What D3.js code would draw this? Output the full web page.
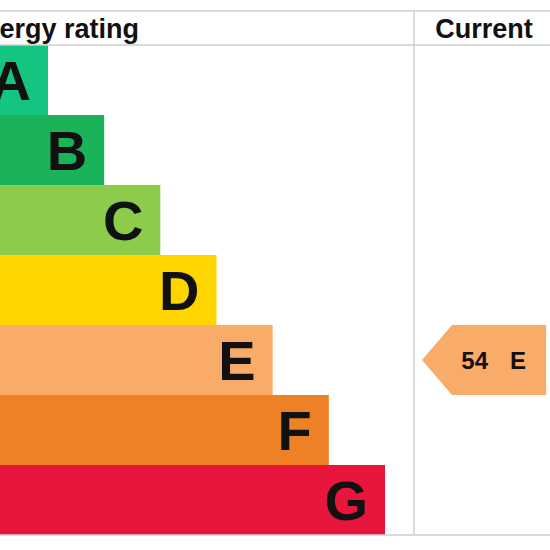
<!DOCTYPE html>
<html><head><meta charset="utf-8">
<script src="https://cdn.jsdelivr.net/npm/d3@7"></script>
<style>html,body{margin:0;padding:0;background:#fff;}svg{display:block;}</style>
</head><body>
<script>
const bands = ["A","B","C","D","E","F","G"];
const bandColors = ["#14c47f","#1bb35a","#8dcc4a","#ffd500","#f9ab69","#ee8026","#e8163c"];
const bandRank = [1,2,3,4,5,6,7];
const headerLabels = ["Energy rating","Current"];
const currentScore = [54];
const currentBand = ["E"];

const W = 550, H = 550;
const svg = d3.select("body").append("svg").attr("width", W).attr("height", H);

const topY = 11, headBot = 45, bottomY = 535, colX = 414, colR = 554, leftX = -60;
const y = d3.scaleBand().domain(bands).range([headBot, bottomY]).padding(0);
const xBar = d3.scaleLinear().domain([1,7]).range([48,385]);
const FONT = "Liberation Sans, Arial, sans-serif";

// bars
svg.selectAll("rect.bar").data(bands).join("rect")
  .attr("x", leftX).attr("y", d => y(d))
  .attr("width", (d,i) => xBar(bandRank[i]) - leftX)
  .attr("height", y.bandwidth())
  .attr("fill", (d,i) => bandColors[i]);

svg.selectAll("text.letter").data(bands).join("text")
  .attr("x", (d,i) => xBar(bandRank[i]) - 17)
  .attr("y", d => y(d) + y.bandwidth()/2 + 20)
  .attr("text-anchor","end")
  .attr("font-family",FONT)
  .attr("font-weight","bold").attr("font-size",56)
  .attr("fill","#111")
  .text(d => d);

// grid lines
const lc = "#cfcfcf";
svg.append("line").attr("x1",leftX).attr("x2",W).attr("y1",topY).attr("y2",topY).attr("stroke",lc).attr("stroke-width",1.5);
svg.append("line").attr("x1",leftX).attr("x2",W).attr("y1",headBot).attr("y2",headBot).attr("stroke",lc).attr("stroke-width",1.5);
svg.append("line").attr("x1",leftX).attr("x2",W).attr("y1",bottomY).attr("y2",bottomY).attr("stroke",lc).attr("stroke-width",1.5);
svg.append("line").attr("x1",colX).attr("x2",colX).attr("y1",topY).attr("y2",bottomY).attr("stroke",lc).attr("stroke-width",1.5);

// header
svg.append("text").attr("x",139).attr("y",38).attr("text-anchor","end")
  .attr("font-family",FONT).attr("font-weight","bold").attr("font-size",27)
  .attr("fill","#111").text(headerLabels[0]);
svg.append("text").attr("x",(colX+colR)/2).attr("y",38).attr("text-anchor","middle")
  .attr("font-family",FONT).attr("font-weight","bold").attr("font-size",27)
  .attr("fill","#111").text(headerLabels[1]);

// current arrow
const bi = bands.indexOf(currentBand[0]);
const ay0 = y(currentBand[0]), ah = y.bandwidth(), ax0 = 422, ax1 = 546, aTip = 30;
const path = d3.path();
path.moveTo(ax0, ay0 + ah/2);
path.lineTo(ax0 + aTip, ay0);
path.lineTo(ax1, ay0);
path.lineTo(ax1, ay0 + ah);
path.lineTo(ax0 + aTip, ay0 + ah);
path.closePath();
svg.append("path").attr("d", path.toString()).attr("fill", bandColors[bi]);
const lab = svg.append("text").attr("y", ay0 + ah/2 + 8.5)
  .attr("font-family",FONT).attr("font-weight","bold").attr("font-size",24)
  .attr("fill","#111");
lab.append("tspan").attr("x", 488).attr("text-anchor","end").text(currentScore[0]);
lab.append("tspan").attr("x", 510).attr("text-anchor","start").text(currentBand[0]);
</script>
</body></html>
